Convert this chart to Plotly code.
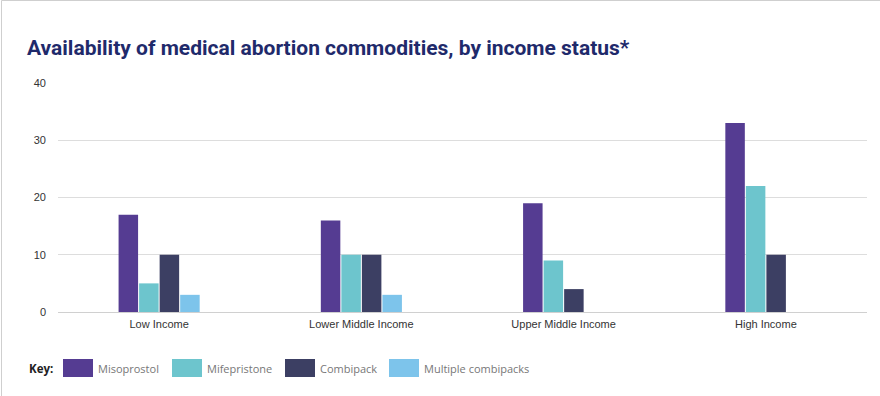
import plotly.graph_objects as go

categories = ["Low Income", "Lower Middle Income", "Upper Middle Income", "High Income"]
series_names = ["Misoprostol", "Mifepristone", "Combipack", "Multiple combipacks"]
misoprostol = [17, 16, 19, 33]
mifepristone = [5, 10, 9, 22]
combipack = [10, 10, 4, 10]
multiple_combipacks = [3, 3, None, None]
y_ticks = [0, 10, 20, 30, 40]

colors = ["#553C92", "#6DC5CD", "#3C3F63", "#7DC4EB"]
values = [misoprostol, mifepristone, combipack, multiple_combipacks]

W, H = 880, 396
L, R, T, B = 58, 13, 83, 84
pw, ph = W - L - R, H - T - B

def px(x):
    return (x - L) / pw

def py(y):
    return (H - B - y) / ph

fig = go.Figure()
for name, vals, col in zip(series_names, values, colors):
    fig.add_trace(go.Bar(x=categories, y=vals, name=name, marker=dict(color=col, line=dict(width=0)),
                         showlegend=False, hoverinfo="x+y+name"))

shapes = []
annotations = []
# card border (top + left)
shapes.append(dict(type="rect", xref="paper", yref="paper", x0=px(1.5), x1=px(900), y0=py(0.5), y1=py(420),
                   line=dict(color="#cfcfcf", width=1), fillcolor="rgba(0,0,0,0)", layer="below"))

# custom key
annotations.append(dict(xref="paper", yref="paper", x=px(27), y=py(368), xanchor="left", yanchor="middle",
                        text="<b>Key:</b>", showarrow=False,
                        font=dict(family="Open Sans", size=11.5, color="#222")))
sw_x = [63, 172, 285, 389]
for x0, name, col in zip(sw_x, series_names, colors):
    shapes.append(dict(type="rect", xref="paper", yref="paper", x0=px(x0), x1=px(x0 + 30),
                       y0=py(377), y1=py(359), fillcolor=col, line=dict(width=0)))
    annotations.append(dict(xref="paper", yref="paper", x=px(x0 + 33), y=py(368), xanchor="left",
                            yanchor="middle", text=name, showarrow=False,
                            font=dict(family="Open Sans", size=11, color="#777")))

fig.update_layout(
    width=W, height=H,
    margin=dict(l=L, r=R, t=T, b=B),
    paper_bgcolor="white", plot_bgcolor="white",
    barmode="group", bargap=0.594, bargroupgap=0.05,
    title=dict(text="<b>Availability of medical abortion commodities, by income status*</b>",
               x=27 / W, xanchor="left", xref="container",
               y=1 - 48 / H, yanchor="middle", yref="container",
               font=dict(family="Liberation Sans Narrow, Roboto", size=21, color="#1F2A6B")),
    shapes=shapes, annotations=annotations,
    font=dict(family="Liberation Sans, Arial", size=11, color="#333"),
)
fig.update_xaxes(showgrid=False, showline=False, ticks="", ticklabelstandoff=4,
                 tickfont=dict(size=11, color="#333"))
fig.update_yaxes(range=[0, 40], tickvals=y_ticks, showgrid=True, gridcolor="#dddddd", gridwidth=1,
                 zeroline=True, zerolinecolor="#d0d0d0", zerolinewidth=1, ticks="", ticklen=0,
                 ticklabelstandoff=11, tickfont=dict(size=11, color="#333"))

fig.write_html("out.html", config={"displayModeBar": False},
               post_script="document.body.style.margin='0';document.body.style.padding='0';")
